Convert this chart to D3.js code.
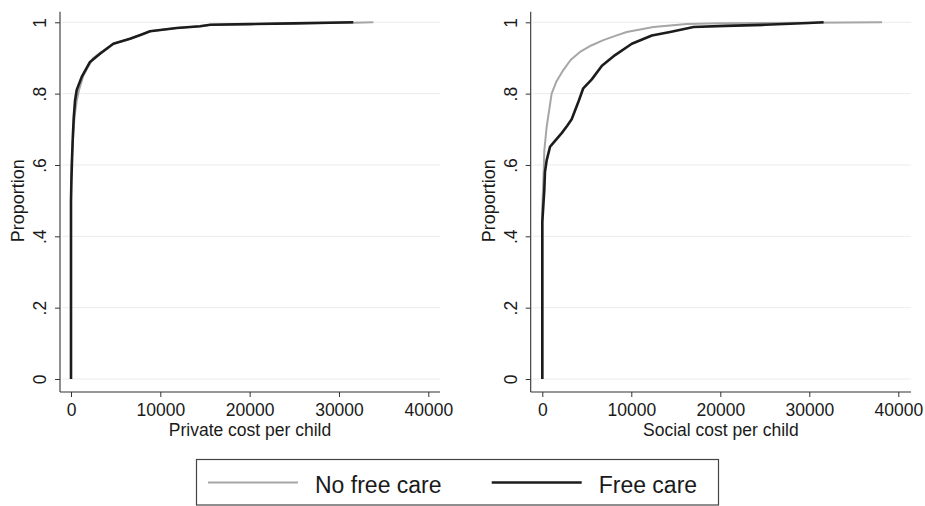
<!DOCTYPE html>
<html>
<head>
<meta charset="utf-8">
<script src="https://cdn.jsdelivr.net/npm/d3@7"></script>
<style>
    body { margin: 0; background: #fff; }
    text { font-family: "Liberation Sans", Arial, Helvetica, sans-serif; fill: #1a1a1a; }
</style>
</head>
<body>
<svg id="drawing_region"></svg>
<script>
// cumulative proportion curves as [cost, proportion]
const private_no_free = [
    [0, 0], [0, 0.55], [60, 0.6], [150, 0.64], [260, 0.69], [420, 0.74], [640, 0.78],
    [900, 0.81], [1380, 0.85], [1900, 0.875], [2500, 0.9], [3300, 0.915], [4740, 0.94],
    [6600, 0.954], [7920, 0.966], [8850, 0.975], [11840, 0.984], [14450, 0.989],
    [15600, 0.993], [20000, 0.995], [25000, 0.997], [31600, 0.999], [33850, 1]
];
const private_free = [
    [0, 0], [0, 0.5], [50, 0.56], [120, 0.62], [190, 0.67], [300, 0.73], [450, 0.78],
    [640, 0.81], [1200, 0.847], [2130, 0.889], [3250, 0.912], [4740, 0.94], [6610, 0.954],
    [7920, 0.966], [8850, 0.975], [11840, 0.984], [14450, 0.989], [15600, 0.993],
    [20000, 0.995], [25000, 0.997], [31600, 1]
];
const social_no_free = [
    [0, 0], [0, 0.48], [160, 0.585], [225, 0.64], [490, 0.707], [1050, 0.8], [1600, 0.835],
    [2360, 0.866], [3200, 0.895], [4240, 0.917], [5500, 0.935], [6860, 0.95], [8200, 0.962],
    [9490, 0.973], [12490, 0.987], [16240, 0.995], [20000, 0.997], [30000, 0.999], [38180, 1]
];
const social_free = [
    [0, 0], [0, 0.44], [225, 0.53], [300, 0.58], [490, 0.613], [870, 0.651], [1240, 0.662],
    [2200, 0.69], [2800, 0.71], [3300, 0.728], [4100, 0.78], [4600, 0.815], [5560, 0.84],
    [6700, 0.878], [8180, 0.908], [10060, 0.94], [12310, 0.963], [14360, 0.973],
    [17000, 0.987], [20550, 0.99], [25050, 0.993], [29920, 0.998], [31610, 1]
];

const x_ticks = [0, 10000, 20000, 30000, 40000];
const y_ticks = [0, 0.2, 0.4, 0.6, 0.8, 1];
const y_tick_labels = ['0', '.2', '.4', '.6', '.8', '1'];
const panel_titles = ['Private cost per child', 'Social cost per child'];
const legend_labels = ['No free care', 'Free care'];

const svg = d3.select('#drawing_region')
    .attr('width', 925)
    .attr('height', 506);

svg.append('rect').attr('width', 925).attr('height', 506).attr('fill', '#fff');

class CdfPanel {

    constructor( config, series ) {
        this.config = config;
        this.series = series;
        this.init();
    }

    init() {
        let self = this;
        let c = self.config;

        self.g = svg.append('g');

        self.xscale = d3.scaleLinear()
            .domain([0, 40000])
            .range([c.x0, c.x1]);

        self.yscale = d3.scaleLinear()
            .domain([0, 1])
            .range([379, 22.3]);

        self.line = d3.line()
            .x(d => self.xscale(d[0]))
            .y(d => self.yscale(d[1]));
    }

    render() {
        let self = this;
        let c = self.config;

        // grid lines
        self.g.selectAll('.grid')
            .data(y_ticks)
            .enter()
            .append('line')
            .attr('x1', c.left + 2)
            .attr('x2', c.right)
            .attr('y1', d => self.yscale(d))
            .attr('y2', d => self.yscale(d))
            .attr('stroke', '#ececec')
            .attr('stroke-width', 1);

        // curves
        self.g.selectAll('.curve')
            .data(self.series)
            .enter()
            .append('path')
            .attr('d', d => self.line(d.values))
            .attr('fill', 'none')
            .attr('stroke', d => d.color)
            .attr('stroke-width', d => d.width)
            .attr('stroke-linejoin', 'round');

        // axes
        const xaxis = d3.axisBottom(self.xscale)
            .tickValues(x_ticks)
            .tickFormat(d3.format('d'))
            .tickSize(5)
            .tickPadding(6.5);

        self.g.append('g')
            .attr('transform', 'translate(0, 392)')
            .call(xaxis)
            .call(g => g.select('.domain').remove())
            .call(g => g.selectAll('line').attr('stroke', '#333'))
            .call(g => g.selectAll('text')
                .style('font-size', '17.5px')
                .style('font-family', '"Liberation Sans", Arial, sans-serif')
                .attr('fill', '#1a1a1a'));

        const yaxis = d3.axisLeft(self.yscale)
            .tickValues(y_ticks)
            .tickFormat((d, i) => y_tick_labels[i])
            .tickSize(5);

        self.g.append('g')
            .attr('transform', `translate(${c.left}, 0)`)
            .call(yaxis)
            .call(g => g.select('.domain').remove())
            .call(g => g.selectAll('line').attr('stroke', '#333'))
            .call(g => g.selectAll('text')
                .attr('x', null)
                .attr('dy', null)
                .attr('transform', 'translate(-14, 0) rotate(-90)')
                .attr('text-anchor', 'middle')
                .style('font-size', '17.5px')
                .style('font-family', '"Liberation Sans", Arial, sans-serif')
                .attr('fill', '#1a1a1a'));

        // axis lines
        self.g.append('line')
            .attr('x1', c.left).attr('x2', c.left)
            .attr('y1', 11.7).attr('y2', 392)
            .attr('stroke', '#333').attr('stroke-width', 1.1);

        self.g.append('line')
            .attr('x1', c.left).attr('x2', c.right)
            .attr('y1', 392).attr('y2', 392)
            .attr('stroke', '#333').attr('stroke-width', 1.1);

        // titles
        self.g.append('text')
            .attr('x', (c.left + c.right) / 2)
            .attr('y', 436)
            .attr('text-anchor', 'middle')
            .style('font-size', '17.5px')
            .text(c.title);

        self.g.append('text')
            .attr('transform', `translate(${c.left - 36}, ${self.yscale(0.5)}) rotate(-90)`)
            .attr('text-anchor', 'middle')
            .style('font-size', '18px')
            .text('Proportion');
    }
}

const colors = ['#a6a6a6', '#1c1c1c'];
const widths = [2, 2.6];

const left_panel = new CdfPanel(
    { left: 60, right: 440, x0: 71, x1: 428.3, title: panel_titles[0] },
    [
        { values: private_no_free, color: colors[0], width: widths[0] },
        { values: private_free, color: colors[1], width: widths[1] }
    ]);
left_panel.render();

const right_panel = new CdfPanel(
    { left: 530.7, right: 911, x0: 542.3, x1: 898.3, title: panel_titles[1] },
    [
        { values: social_no_free, color: colors[0], width: widths[0] },
        { values: social_free, color: colors[1], width: widths[1] }
    ]);
right_panel.render();

// legend
const legend = svg.append('g');

legend.append('rect')
    .attr('x', 196.5)
    .attr('y', 459.5)
    .attr('width', 522)
    .attr('height', 45.5)
    .attr('fill', '#fff')
    .attr('stroke', '#444')
    .attr('stroke-width', 1.2);

const legend_x = [208, 491.7];

legend.selectAll('.lline')
    .data(legend_labels)
    .enter()
    .append('line')
    .attr('x1', (d, i) => legend_x[i])
    .attr('x2', (d, i) => legend_x[i] + 90)
    .attr('y1', 482.5)
    .attr('y2', 482.5)
    .attr('stroke', (d, i) => colors[i])
    .attr('stroke-width', (d, i) => widths[i]);

legend.selectAll('.ltext')
    .data(legend_labels)
    .enter()
    .append('text')
    .attr('x', (d, i) => legend_x[i] + 107)
    .attr('y', 493)
    .style('font-size', '23px')
    .text(d => d);
</script>
</body>
</html>
